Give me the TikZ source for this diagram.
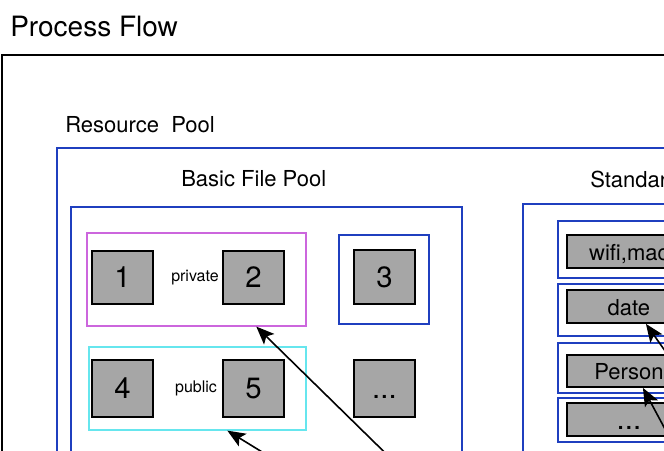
\documentclass[tikz,border=0pt]{standalone}
\usepackage{fontspec}
\setmainfont{TeX Gyre Heros}
\usetikzlibrary{arrows.meta}

\definecolor{poolblue}{HTML}{1F3FBF}
\definecolor{privline}{HTML}{CC66DD}
\definecolor{publine}{HTML}{66E6EE}
\definecolor{cellgray}{HTML}{A6A6A6}

\tikzset{
	frame/.style={draw=black, line width=1.5pt, anchor=north west, inner sep=0pt},
	pool/.style={draw=poolblue, line width=1.5pt, anchor=north west, inner sep=0pt},
	cell/.style={draw=black, fill=cellgray, line width=1.4pt, anchor=north west, inner sep=0pt,
		font=\fontsize{22}{22}\selectfont, text height=15.5pt, text depth=0pt},
	stdcell/.style={cell, font=\fontsize{16.5}{16.5}\selectfont, text height=13pt},
	title/.style={anchor=base west, inner sep=0pt},
	flow/.style={draw=black, line width=1.2pt, -{Stealth[length=13.5pt,width=11pt,inset=3pt]}}
}

\begin{document}
\begin{tikzpicture}[x=0.75pt, y=-0.75pt]
	\path[use as bounding box, clip] (0,0) rectangle (664,450);
	
	% headings
	\node[title, font=\fontsize{21}{21}\selectfont] (flowtitle) at (10,36) {Process Flow};
	\node[frame, minimum width=540pt, minimum height=337.5pt] (flowframe) at (1,54) {};
	\node[title, font=\fontsize{16.5}{16.5}\selectfont] (restitle) at (65,132) {Resource~~Pool};
	\node[pool, minimum width=495pt, minimum height=300pt] (respool) at (56,147) {};
	
	% basic file pool
	\node[title, font=\fontsize{16.5}{16.5}\selectfont] (basictitle) at (181,186) {Basic File Pool};
	\node[pool, minimum width=293.25pt, minimum height=225pt] (basicpool) at (70,206) {};
	
	\node[pool, draw=privline, line width=1.2pt, minimum width=164.25pt, minimum height=69.75pt] (privgrp) at (86,232) {};
	\node[cell, minimum width=45.75pt, minimum height=39.75pt] (box1) at (91,250) {1};
	\node[cell, minimum width=45.75pt, minimum height=39.75pt] (box2) at (222,250) {2};
	\node[font=\fontsize{12}{12}\selectfont, inner sep=0pt] (privlabel) at (195,278) {private};
	
	\node[pool, draw=publine, line width=1.2pt, minimum width=162.75pt, minimum height=62.25pt] (pubgrp) at (88,346) {};
	\node[cell, minimum width=45.75pt, minimum height=42.75pt] (box4) at (91,359) {4};
	\node[cell, minimum width=45.75pt, minimum height=42.75pt] (box5) at (222,359) {5};
	\node[font=\fontsize{12}{12}\selectfont, inner sep=0pt] (publabel) at (196,388) {public};
	
	\node[pool, minimum width=67.5pt, minimum height=66.75pt] (grp3) at (338,234) {};
	\node[cell, minimum width=45.75pt, minimum height=40.5pt] (box3) at (353,249) {3};
	\node[cell, minimum width=45.75pt, minimum height=42.75pt] (boxmore) at (353,359) {...};
	
	% standard pool
	\node[title, font=\fontsize{16.5}{16.5}\selectfont] (stdtitle) at (590,187) {Standard};
	\node[pool, minimum width=150pt, minimum height=225pt] (stdpool) at (522,203) {};
	
	\node[pool, minimum width=120pt, minimum height=42.75pt] (wifigrp) at (557,220) {};
	\node[pool, minimum width=120pt, minimum height=39pt] (dategrp) at (557,283) {};
	\node[pool, minimum width=120pt, minimum height=37.5pt] (persongrp) at (557,342) {};
	\node[pool, minimum width=120pt, minimum height=33pt] (stdmoregrp) at (557,397) {};
	
	\node[stdcell, minimum width=93pt, minimum height=24.75pt] (wifi) at (566,234) {wifi,mac};
	\node[stdcell, minimum width=93pt, minimum height=24.75pt] (date) at (566,289) {date};
	\node[stdcell, minimum width=93pt, minimum height=24pt] (person) at (566,354) {Person};
	\node[cell, minimum width=93pt, minimum height=24.75pt] (stdmore) at (566,402) {...};
	
	% connectors
	\coordinate (src1) at (420,487);
	\coordinate (src2) at (293,471);
	\coordinate (src3) at (685,379);
	\coordinate (src4) at (680,457);
	\draw[flow] (src1) -- ([xshift=45pt]privgrp.south);
	\draw[flow] (src2) -- ([xshift=22.5pt]pubgrp.south);
	\draw[flow] (src3) -- ([xshift=12.75pt]date.south);
	\draw[flow] (src4) -- ([xshift=10.5pt]person.south);
\end{tikzpicture}
\end{document}
